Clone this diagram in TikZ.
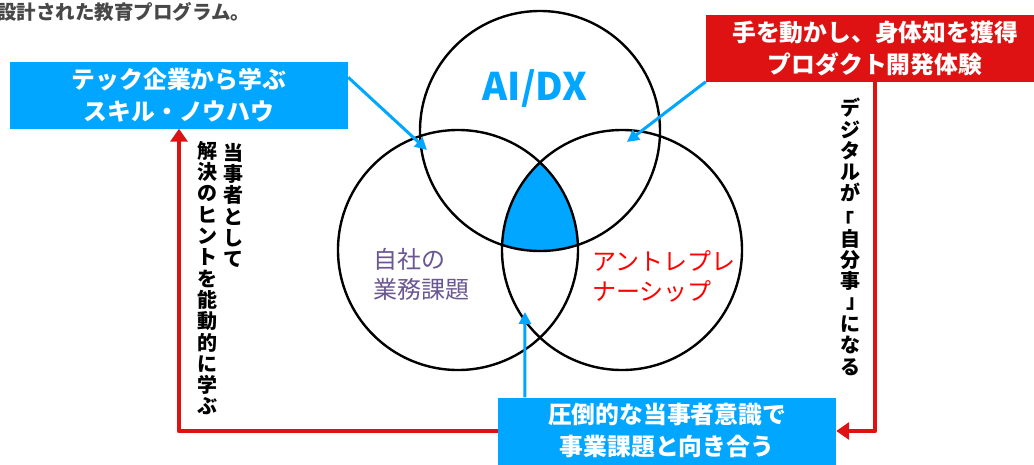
\documentclass[tikz,border=0pt]{standalone}
\usepackage{fontspec}
\usetikzlibrary{arrows.meta,positioning}
\newfontfamily\jp{Noto Sans CJK JP}
\definecolor{skyblue}{RGB}{0,166,255}
\definecolor{boxred}{RGB}{222,18,18}
\definecolor{taskpurple}{RGB}{106,86,146}
\definecolor{introgray}{RGB}{72,72,72}
\newcommand{\openq}{\raisebox{-0.3em}{\kern-0.3em 「\kern0.3em}}
\newcommand{\closeq}{\raisebox{0.1em}{\kern0.3em 」\kern-0.3em}}
\tikzset{
	box/.style={fill=#1, text=white, minimum width=338pt, minimum height=67pt, align=center, inner sep=0pt, font=\jp\bfseries\fontsize{23.8}{32}\selectfont},
	venn/.style={circle, draw=black, line width=2.4pt, minimum size=240pt, inner sep=0pt},
	redarrow/.style={draw=boxred, line width=4.5pt, line join=round, -{Triangle[length=13pt,width=17pt]}},
	bluearrow/.style={draw=skyblue, line width=3pt, -{Triangle[length=12pt,width=12pt]}},
	vlabel/.style={font=\jp\bfseries\fontsize{20}{21.3}\selectfont, align=center, inner sep=0pt, anchor=north},
	vennlabel/.style={font=\jp\fontsize{24}{30}\selectfont, align=left, inner sep=0pt, anchor=west}
}
\begin{document}
\begin{tikzpicture}[x=1pt, y=-1pt]
		\useasboundingbox (0,0) rectangle (1034,464);
		\coordinate (O1) at (540,131);
		\coordinate (O2) at (458,250);
		\coordinate (O3) at (622,250);
		\coordinate (tip1) at (427,150);
		\coordinate (tip2) at (627,142);
		\coordinate (tip3) at (525,312);
		\begin{scope}
			\clip (O1) circle[radius=120pt];
			\clip (O2) circle[radius=120pt];
			\fill[skyblue] (O3) circle[radius=120pt];
		\end{scope}
		\node[venn] (aidx) at (O1) {};
		\node[venn] (own) at (O2) {};
		\node[venn] (entre) at (O3) {};
		\node[text=skyblue, anchor=base, inner sep=0pt, font=\jp\bfseries\fontsize{38}{38}\selectfont] (aitext) at (535,100) {AI/DX};
		\node[vennlabel, text=taskpurple] (owntext) at (373,274) {自社の\\業務課題};
		\node[vennlabel, text=red] (entretext) at (592,276) {アントレプレ\\ナーシップ};
		\node[anchor=west, inner sep=0pt, text=introgray, font=\jp\bfseries\fontsize{19.5}{19.5}\selectfont] (intro) at (-3,12) {設計された教育プログラム。};
		\node[box=skyblue] (skill) at (179,95) {テック企業から学ぶ\\スキル・ノウハウ};
		\node[box=boxred] (handson) at (875,48) {手を動かし、身体知を獲得\\プロダクト開発体験};
		\node[box=skyblue] (face) at (667,431) {圧倒的な当事者意識で\\事業課題と向き合う};
		\draw[redarrow] (face.west) -| (skill.south);
		\draw[redarrow] (handson.south) |- (face.east);
		\draw[bluearrow] ([yshift=-16pt]skill.north east) -- (tip1);
		\draw[bluearrow] (handson.south west) -- (tip2);
		\draw[bluearrow] ([xshift=27pt]face.north west) -- (tip3);
		\node[vlabel] (selfA) at (233,143) {当\\事\\者\\と\\し\\て};
		\node[vlabel] (selfB) at (207,141) {解\\決\\の\\ヒ\\ン\\ト\\を\\能\\動\\的\\に\\学\\ぶ};
		\node[vlabel] (digital) at (850,98) {デ\\ジ\\タ\\ル\\が\\\openq\\自\\分\\事\\\closeq\\に\\な\\る};
	\end{tikzpicture}
\end{document}
